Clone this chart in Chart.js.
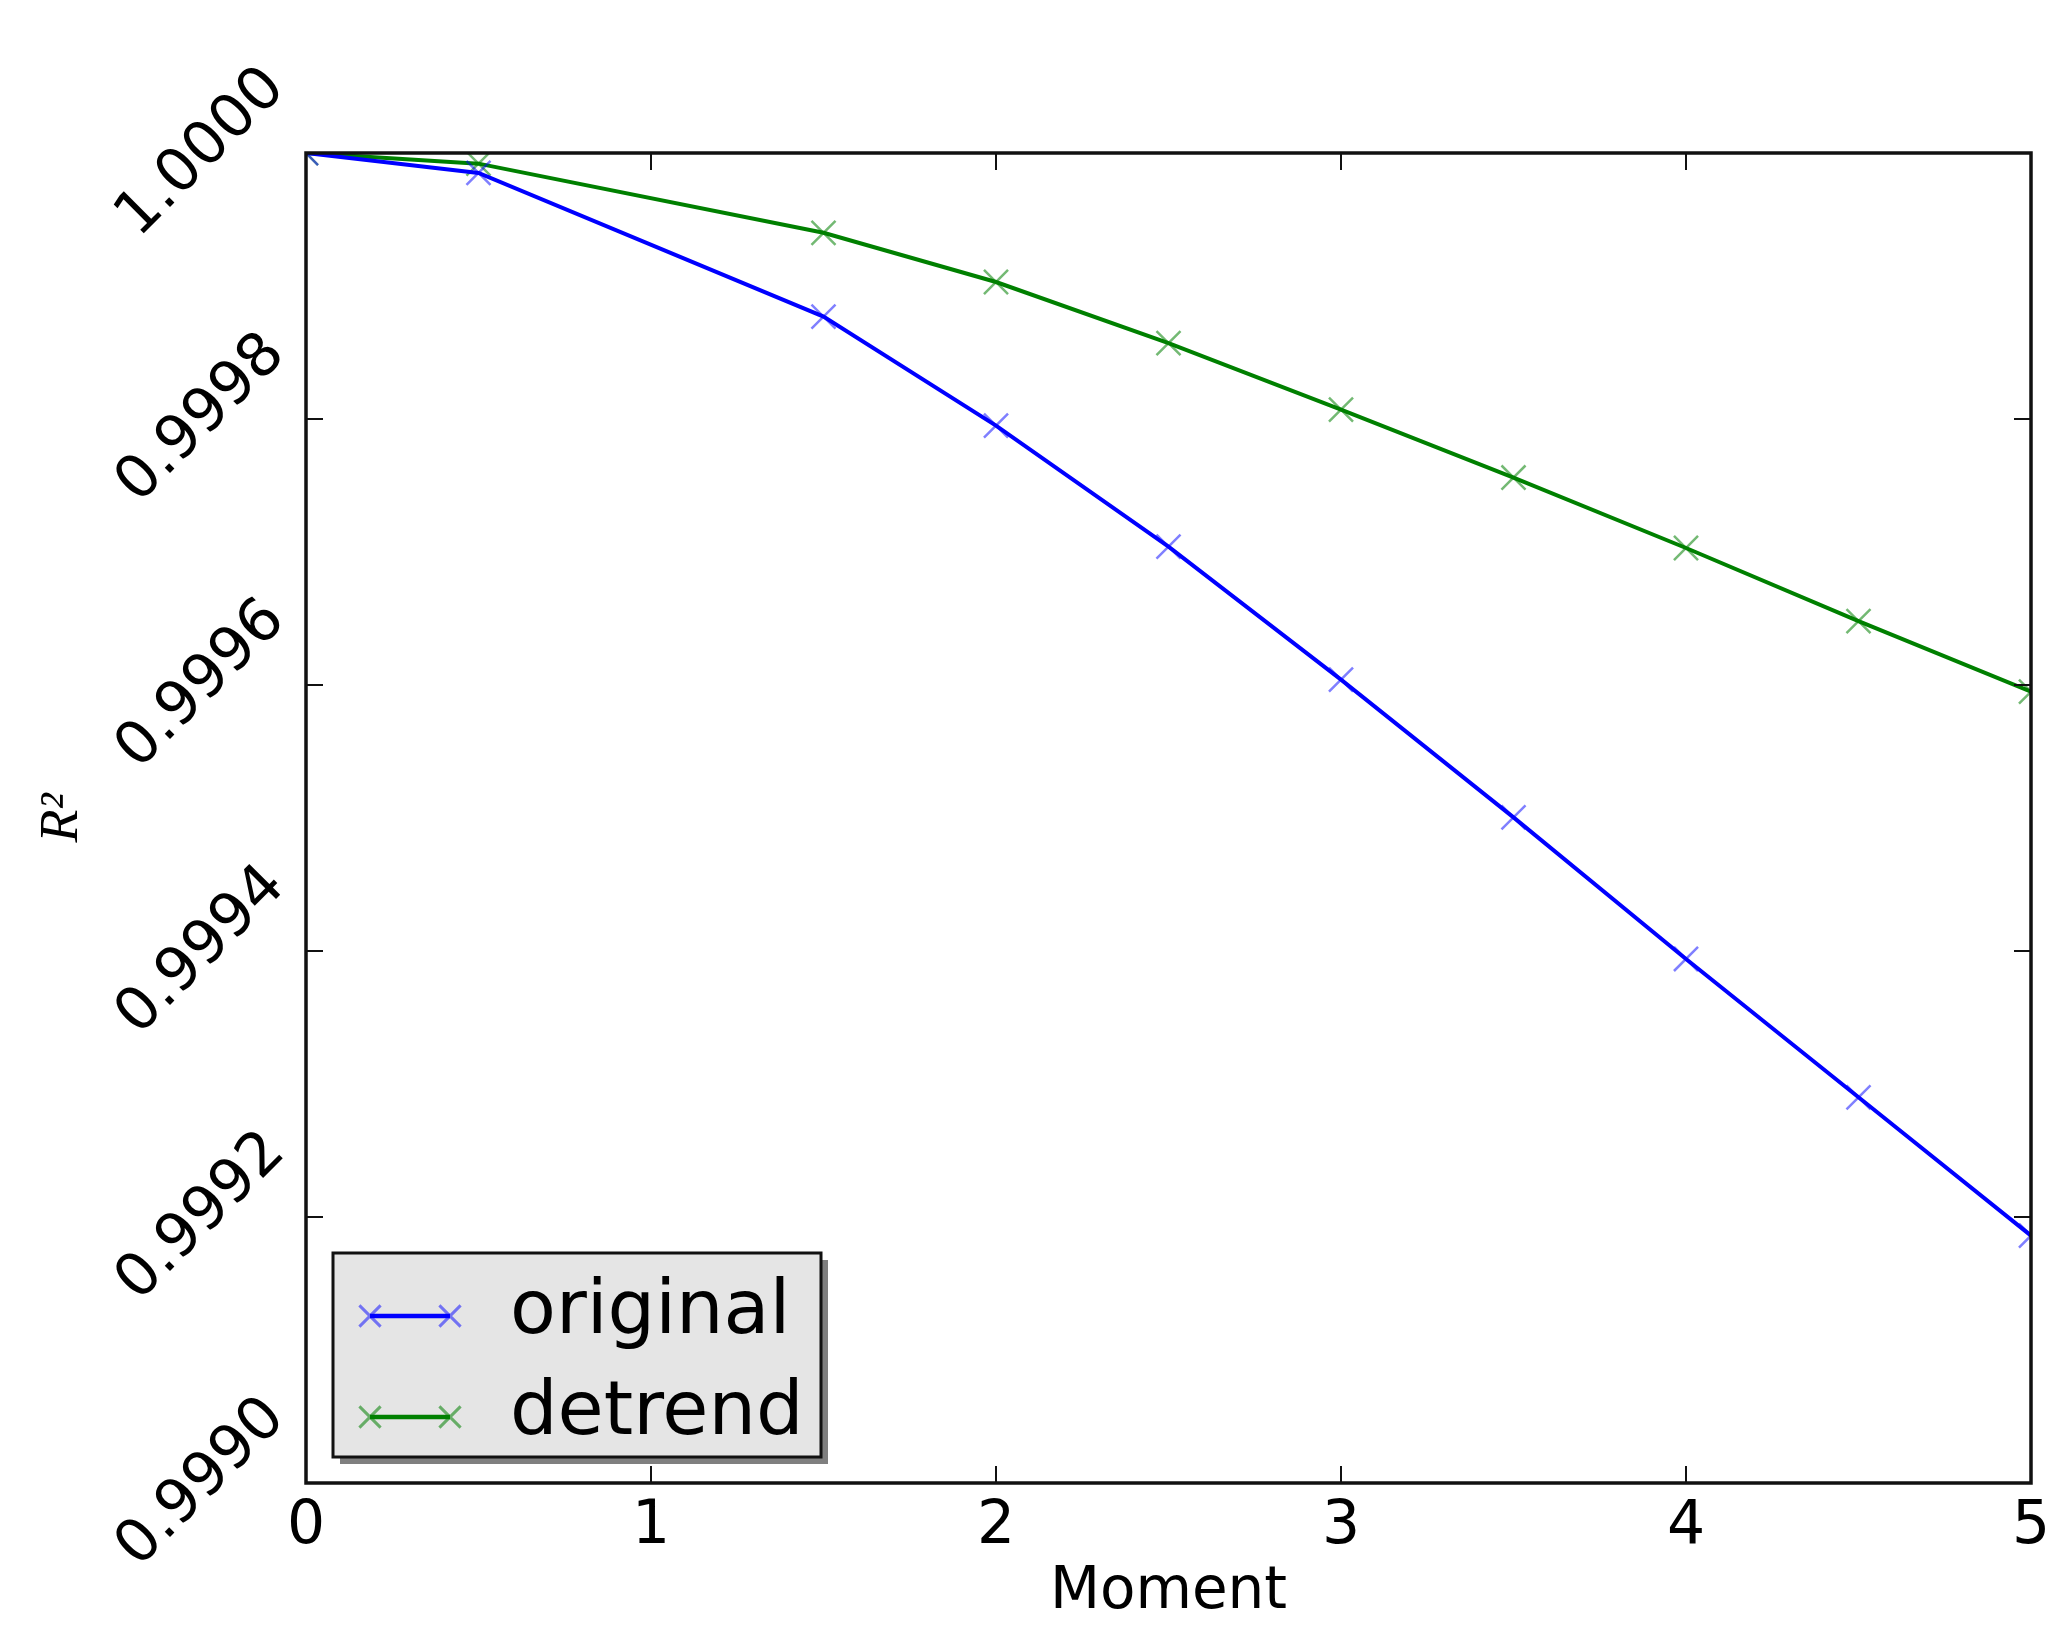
<!DOCTYPE html>
<html><head><meta charset="utf-8">
<script src="https://cdn.jsdelivr.net/npm/chart.js@4/dist/chart.umd.min.js"></script>
<style>html,body{margin:0;padding:0;background:#fff;overflow:hidden}#wrap{width:2066px;height:1637px;}</style>
</head><body><div id="wrap"><canvas id="c" width="2066" height="1637"></canvas></div>
<script>
const moments = [0, 0.5, 1.5, 2, 2.5, 3, 3.5, 4, 4.5, 5];
const originalR2 = [1.0, 0.999985, 0.999877, 0.999795, 0.999704, 0.999604, 0.9995005, 0.999394, 0.99929, 0.999186];
const detrendR2 = [1.0, 0.999992, 0.99994, 0.999903, 0.999857, 0.999807, 0.999756, 0.999703, 0.999648, 0.999595];
const xTickValues = [0, 1, 2, 3, 4, 5];
const yTickLabels = ['0.9990', '0.9992', '0.9994', '0.9996', '0.9998', '1.0000'];
const seriesNames = ['original', 'detrend'];
const seriesColors = ['#0000ff', '#008000'];
const markerColors = ['rgba(0,0,255,0.5)', 'rgba(0,128,0,0.55)'];

function drawCross(ctx, x, y, r, color, lw) {
  const d = r * Math.SQRT1_2;
  ctx.save();
  ctx.strokeStyle = color; ctx.lineWidth = lw;
  ctx.beginPath();
  ctx.moveTo(x - d, y - d); ctx.lineTo(x + d, y + d);
  ctx.moveTo(x - d, y + d); ctx.lineTo(x + d, y - d);
  ctx.stroke();
  ctx.restore();
}

const framePlugin = {
  id: 'frame',
  afterDatasetsDraw(chart) {
    const {ctx, chartArea: a, scales} = chart;
    ctx.save();
    ctx.strokeStyle = '#111'; ctx.lineWidth = 2;
    const tl = 17;
    ctx.beginPath();
    xTickValues.forEach(v => {
      const px = scales.x.getPixelForValue(v);
      if (px <= a.left + 1 || px >= a.right - 1) return;
      ctx.moveTo(px, a.bottom); ctx.lineTo(px, a.bottom - tl);
      ctx.moveTo(px, a.top); ctx.lineTo(px, a.top + tl);
    });
    yTickLabels.forEach(t => {
      const py = scales.y.getPixelForValue(Number(t));
      if (py <= a.top + 1 || py >= a.bottom - 1) return;
      ctx.moveTo(a.left, py); ctx.lineTo(a.left + tl, py);
      ctx.moveTo(a.right, py); ctx.lineTo(a.right - tl, py);
    });
    ctx.stroke();
    ctx.lineWidth = 3.5; ctx.strokeStyle = '#111';
    ctx.strokeRect(a.left, a.top, a.right - a.left, a.bottom - a.top);
    ctx.restore();
  }
};

const legendPlugin = {
  id: 'mplLegend',
  afterDraw(chart) {
    const {ctx, chartArea: a} = chart;
    const bw = 488, bh = 204;
    const bx = a.left + 27, by = a.bottom - 26 - bh;
    ctx.save();
    ctx.fillStyle = 'rgba(0,0,0,0.5)';
    ctx.fillRect(bx + 7, by + 7, bw, bh);
    ctx.fillStyle = '#e5e5e5';
    ctx.fillRect(bx, by, bw, bh);
    ctx.strokeStyle = '#111'; ctx.lineWidth = 3;
    ctx.strokeRect(bx, by, bw, bh);
    chart.data.datasets.forEach((ds, i) => {
      const cy = by + 63 + i * 101;
      const x0 = bx + 37, x1 = bx + 117;
      ctx.strokeStyle = ds.borderColor; ctx.lineWidth = 4.5;
      ctx.beginPath(); ctx.moveTo(x0, cy); ctx.lineTo(x1, cy); ctx.stroke();
      drawCross(ctx, x0, cy, 15, ds.pointBorderColor, 3);
      drawCross(ctx, x1, cy, 15, ds.pointBorderColor, 3);
      ctx.fillStyle = '#000';
      ctx.font = '75px "DejaVu Sans"';
      ctx.textBaseline = 'alphabetic'; ctx.textAlign = 'left';
      ctx.fillText(ds.label, bx + 177, cy + 17);
    });
    ctx.restore();
  }
};

function makeDataset(i, values) {
  return {
    label: seriesNames[i],
    data: moments.map((m, k) => ({x: m, y: values[k]})),
    borderColor: seriesColors[i],
    borderWidth: 4,
    pointStyle: 'crossRot',
    pointRadius: 17,
    pointHoverRadius: 17,
    pointBorderColor: markerColors[i],
    pointBackgroundColor: 'transparent',
    pointBorderWidth: 2.5,
    tension: 0,
    fill: false,
    clip: 0
  };
}

const tickFont = {family: 'DejaVu Sans', size: 60};
new Chart(document.getElementById('c').getContext('2d'), {
  type: 'line',
  data: {datasets: [makeDataset(0, originalR2), makeDataset(1, detrendR2)]},
  options: {
    responsive: false, animation: false, devicePixelRatio: 1,
    layout: {padding: {top: 153, right: 35, left: 0, bottom: 0}},
    plugins: {legend: {display: false}, tooltip: {enabled: false}},
    scales: {
      x: {
        type: 'linear', min: 0, max: 5,
        afterBuildTicks: s => { s.ticks = xTickValues.map(v => ({value: v})); },
        grid: {display: false, drawTicks: false},
        border: {display: false},
        ticks: {font: tickFont, color: '#000', padding: 8, maxRotation: 0, autoSkip: false},
        title: {display: true, text: 'Moment', font: {family: 'DejaVu Sans', size: 58}, color: '#000', padding: {top: 0, bottom: 9}},
        afterFit: s => { s.height = 154; }
      },
      y: {
        type: 'linear', min: 0.999, max: 1.0,
        afterBuildTicks: s => { s.ticks = yTickLabels.map(v => ({value: Number(v)})); },
        grid: {display: false, drawTicks: false},
        border: {display: false},
        ticks: {font: tickFont, color: '#000', minRotation: 45, maxRotation: 45, labelOffset: -74, padding: 30, autoSkip: false,
          callback: (v, i) => yTickLabels[i]},
        title: {display: true, text: 'R²', font: {family: 'Liberation Serif', style: 'italic', size: 54}, color: '#000', padding: {top: 30, bottom: 0}},
        afterFit: s => { s.width = 306; }
      }
    }
  },
  plugins: [framePlugin, legendPlugin]
});
</script>
</body></html>
